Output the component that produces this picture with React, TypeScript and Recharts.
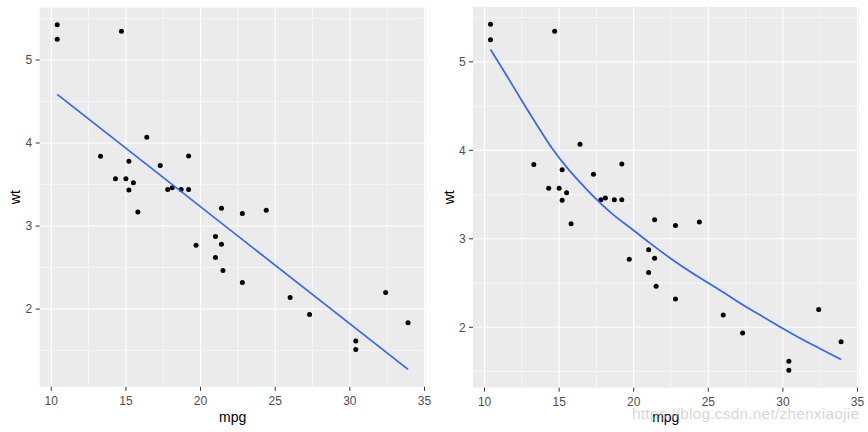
import React from 'react';
import { ScatterChart, Scatter, XAxis, YAxis, CartesianGrid, Label } from 'recharts';

// mtcars: mpg vs wt
const mpgValues = [21.0, 21.0, 22.8, 21.4, 18.7, 18.1, 14.3, 24.4, 22.8, 19.2, 17.8, 16.4, 17.3, 15.2, 10.4, 10.4, 14.7, 32.4, 30.4, 33.9, 21.5, 15.5, 15.2, 13.3, 19.2, 27.3, 26.0, 30.4, 15.8, 19.7, 15.0, 21.4];
const wtValues = [2.62, 2.875, 2.32, 3.215, 3.44, 3.46, 3.57, 3.19, 3.15, 3.44, 3.44, 4.07, 3.73, 3.78, 5.25, 5.424, 5.345, 2.2, 1.615, 1.835, 2.465, 3.52, 3.435, 3.84, 3.845, 1.935, 2.14, 1.513, 3.17, 2.77, 3.57, 2.78];

// straight fit (left panel)
const lineMpg = [10.4, 33.9];
const lineWt = [4.585, 1.273];

// curved fit (right panel)
const curveMpg = [10.4, 11.5, 12.5, 13.5, 14.5, 15.5, 16.5, 17.5, 18.5, 20, 21, 22.5, 24, 25, 26, 27.5, 29, 30, 31, 32.5, 33.9];
const curveWt = [5.14, 4.84, 4.56, 4.29, 4.03, 3.81, 3.62, 3.445, 3.29, 3.094, 2.962, 2.775, 2.605, 2.5, 2.395, 2.235, 2.085, 1.985, 1.89, 1.757, 1.636];

const xTicks = [10, 15, 20, 25, 30, 35];
const xMinor = [12.5, 17.5, 22.5, 27.5, 32.5];
const yTicks = [2, 3, 4, 5];
const yMinor = [1.5, 2.5, 3.5, 4.5, 5.5];

const points = mpgValues.map((m, i) => ({ mpg: m, wt: wtValues[i] }));
const lineFit = lineMpg.map((m, i) => ({ mpg: m, wt: lineWt[i] }));
const curveFit = curveMpg.map((m, i) => ({ mpg: m, wt: curveWt[i] }));

const FONT = '"Liberation Sans", Arial, sans-serif';
const tickStyle = { fontSize: 12, fill: '#4D4D4D', fontFamily: FONT };

const Dot = (props: any) => <circle cx={props.cx} cy={props.cy} r={2.5} fill="#000" />;
const NoDot = () => <g />;

const YTitle = (props: any) => {
  const vb = props.viewBox || { x: 0, y: 0, height: 0 };
  const cx = vb.x + 15;
  const cy = vb.y + vb.height / 2;
  return (
    <text x={cx} y={cy} transform={`rotate(-90, ${cx}, ${cy})`} textAnchor="middle" dominantBaseline="central"
      fontSize={14} fill="#000" fontFamily={FONT}>wt</text>
  );
};

const Panel: React.FC<{
  fit: { mpg: number; wt: number }[];
  yDomain: [number, number];
  top: number;
  right: number;
  yWidth: number;
  xHeight: number;
}> = ({ fit, yDomain, top, right, yWidth, xHeight }) => (
  <ScatterChart width={434} height={432} margin={{ top, right, bottom: 0, left: 0 }}>
    <CartesianGrid fill="#EBEBEB" stroke="#FFFFFF" strokeWidth={0.55} horizontalValues={yMinor} verticalValues={xMinor} />
    <CartesianGrid stroke="#FFFFFF" strokeWidth={1.1} horizontalValues={yTicks} verticalValues={xTicks} />
    <XAxis type="number" dataKey="mpg" domain={[9.225, 35.075]} allowDataOverflow ticks={xTicks} interval={0}
      height={xHeight} axisLine={false} tickLine={{ stroke: '#333333' }} tickSize={4} tickMargin={6} tick={tickStyle}>
      <Label value="mpg" position="insideBottom" offset={10.3} style={{ fontSize: 14, fill: '#000', fontFamily: FONT }} />
    </XAxis>
    <YAxis type="number" dataKey="wt" domain={yDomain} allowDataOverflow ticks={yTicks} interval={0}
      width={yWidth} axisLine={false} tickLine={{ stroke: '#333333' }} tickSize={4} tickMargin={3.4} tick={tickStyle}>
      <Label content={YTitle} />
    </YAxis>
    <Scatter data={points} shape={Dot} isAnimationActive={false} />
    <Scatter data={fit} shape={NoDot} line={{ stroke: '#3366FF', strokeWidth: 1.7 }} lineJointType="monotoneX"
      isAnimationActive={false} />
  </ScatterChart>
);

export default function App() {
  return (
    <div style={{ position: 'absolute', left: 0, top: 0, width: 868, height: 432, background: '#fff', overflow: 'hidden' }}>
      <div style={{ position: 'absolute', left: 0, top: 0 }}>
        <Panel fit={lineFit} yDomain={[1.064, 5.632]} top={7.5} right={8.4} yWidth={39.7} xHeight={45.2} />
      </div>
      <div style={{ position: 'absolute', left: 434, top: 0 }}>
        <Panel fit={curveFit} yDomain={[1.317, 5.62]} top={7} right={9.4} yWidth={39} xHeight={44.3} />
      </div>
      <svg width={868} height={432} style={{ position: 'absolute', left: 0, top: 0, pointerEvents: 'none' }}>
        <text x={632} y={419} fontSize={15.5} textLength={227} fontFamily={FONT} fill="#BBBBBB" fillOpacity={0.6}>
          https://blog.csdn.net/zhenxiaojie
        </text>
      </svg>
    </div>
  );
}
